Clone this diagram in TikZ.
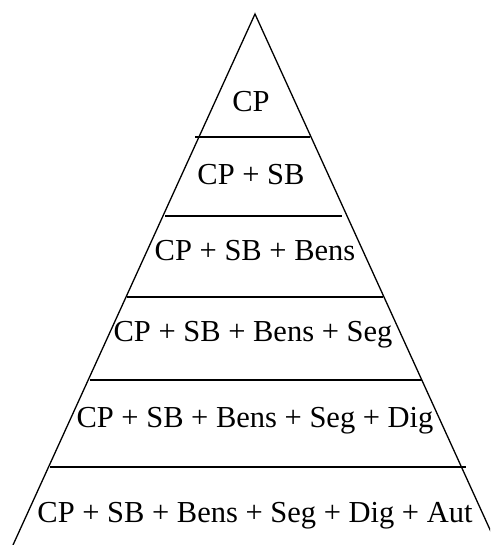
\documentclass[tikz,border=0pt]{standalone}
\usepackage{fontspec}
\setmainfont{Liberation Serif}
\begin{document}
\begin{tikzpicture}[x=1pt,y=-1pt,
  edge/.style={line width=1.3pt, black},
  level/.style={anchor=base, inner sep=0pt, font=\fontsize{30.5}{36}\selectfont}]
\useasboundingbox (0,0) rectangle (490,545);
\begin{scope}
\clip (0,0) rectangle (490,545);
\coordinate (apex) at (255,14);
\coordinate (bl) at (13,545);
\coordinate (br) at (497,545);
\draw[edge] (bl) -- (apex) -- (br);
\coordinate (l1a) at (195,137); \coordinate (l1b) at (310,137);
\coordinate (l2a) at (165,216); \coordinate (l2b) at (342,216);
\coordinate (l3a) at (127,297); \coordinate (l3b) at (383,297);
\coordinate (l4a) at (90,380);  \coordinate (l4b) at (422,380);
\coordinate (l5a) at (50,467);  \coordinate (l5b) at (466,467);
\draw[edge] (l1a) -- (l1b);
\draw[edge] (l2a) -- (l2b);
\draw[edge] (l3a) -- (l3b);
\draw[edge] (l4a) -- (l4b);
\draw[edge] (l5a) -- (l5b);
\end{scope}
\node[level] (t1) at (251,112) {CP};
\node[level] (t2) at (251,185) {CP + SB};
\node[level] (t3) at (255,260) {CP + SB + Bens};
\node[level] (t4) at (253,341) {CP + SB + Bens + Seg};
\node[level] (t5) at (255,427) {CP + SB + Bens + Seg + Dig};
\node[level] (t6) at (255,522) {CP + SB + Bens + Seg + Dig + Aut};
\end{tikzpicture}
\end{document}
